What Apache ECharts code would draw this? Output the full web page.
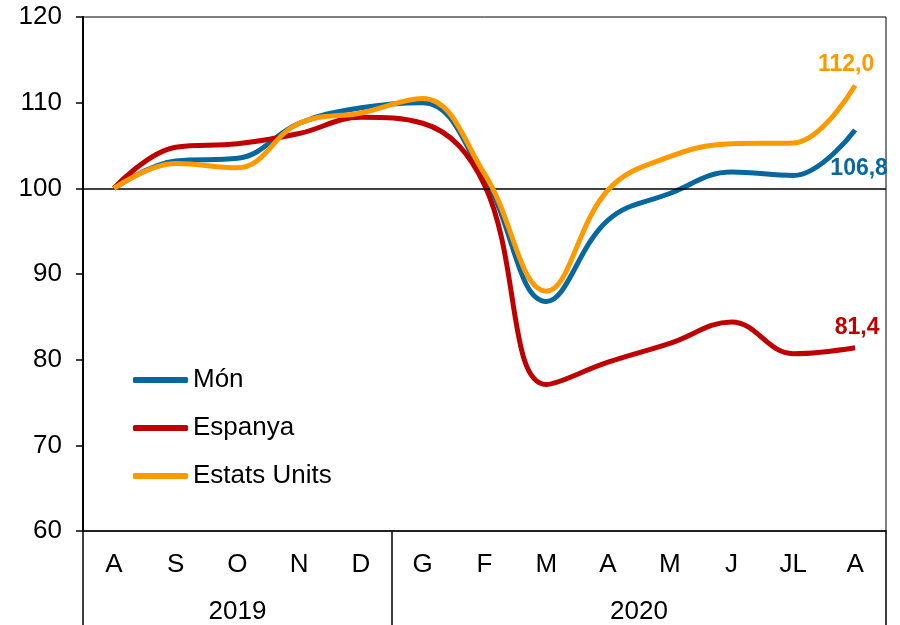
<!DOCTYPE html>
<html>
<head>
<meta charset="utf-8">
<script src="https://cdn.jsdelivr.net/npm/echarts@6/dist/echarts.min.js"></script>
<style>
  html, body { margin: 0; padding: 0; background: #fff; }
  #main { width: 900px; height: 625px; }
</style>
</head>
<body>
<div id="main"></div>
<script>
// mesos (agost 2019 - agost 2020)
var months = ['A', 'S', 'O', 'N', 'D', 'G', 'F', 'M', 'A', 'M', 'J', 'JL', 'A'];
var yearLabels = { 2: '2019', 8.5: '2020' };

// índex, agost 2019 = 100
var mon      = [100, 103.2, 103.5, 107.6, 109.4, 110.0, 101.2, 86.8, 96.3, 99.4, 101.9, 101.5, 106.8];
var espanya  = [100, 104.8, 105.2, 106.4, 108.3, 107.6, 100.4, 77.1, 79.7, 81.9, 84.4, 80.7, 81.4];
var estats   = [100, 102.9, 102.4, 107.6, 108.8, 110.5, 101.7, 88.0, 99.8, 103.7, 105.2, 105.3, 112.0];

var FONT = 'Liberation Sans, Arial, sans-serif';

function fmt(v) {
    return v.toFixed(1).replace('.', ',');
}

// posa l'etiqueta només al darrer punt
function withEndLabel(arr, color, pos, dist, offset) {
    return arr.map(function (v, i) {
        if (i !== arr.length - 1) return v;
        return {
            value: v,
            label: {
                show: true,
                position: pos,
                distance: dist,
                offset: offset,
                formatter: function (p) { return fmt(p.value); },
                color: color,
                fontFamily: FONT,
                fontWeight: 'bold',
                fontSize: 23
            }
        };
    });
}

var myChart = echarts.init(document.getElementById('main'));

var option = {
    animation: false,
    grid: {
        left: 83,
        right: 14,
        top: 17,
        bottom: 94,
        show: true,
        borderColor: '#000',
        borderWidth: 1
    },
    legend: {
        orient: 'vertical',
        left: 133,
        top: 364,
        padding: 0,
        itemWidth: 55,
        itemHeight: 6,
        itemGap: 16,
        icon: 'roundRect',
        textStyle: { fontFamily: FONT, fontSize: 26, color: '#000', lineHeight: 32 },
        data: ['Món', 'Espanya', 'Estats Units']
    },
    xAxis: [
        {
            type: 'category',
            data: months,
            boundaryGap: true,
            axisLine: { lineStyle: { color: '#000', width: 1.5 } },
            axisTick: {
                show: true,
                length: 94,
                interval: function (index) { return index === 0 || index === 5; },
                lineStyle: { color: '#000', width: 1.5 }
            },
            axisLabel: {
                interval: 0,
                margin: 21,
                fontFamily: FONT,
                fontSize: 26,
                color: '#000'
            },
            splitLine: { show: false }
        },
        {
            type: 'value',
            position: 'bottom',
            min: -0.5,
            max: 12.5,
            interval: 0.5,
            axisLine: { show: false, onZero: false },
            axisTick: { show: false },
            splitLine: { show: false },
            axisLabel: {
                margin: 68,
                fontFamily: FONT,
                fontSize: 26,
                color: '#000',
                showMinLabel: true,
                showMaxLabel: true,
                formatter: function (v) { return yearLabels[v] || ''; }
            }
        }
    ],
    yAxis: {
        type: 'value',
        min: 60,
        max: 120,
        interval: 10,
        axisLine: { show: true, onZero: false, lineStyle: { color: '#000', width: 2 } },
        axisTick: { show: true, length: 7, lineStyle: { color: '#000', width: 1.5 } },
        axisLabel: { margin: 21, fontFamily: FONT, fontSize: 26, color: '#000' },
        splitLine: { show: false }
    },
    series: [
        {
            name: 'Món',
            type: 'line',
            smooth: 0.4,
            symbol: 'circle',
            symbolSize: 0,
            color: '#07689F',
            lineStyle: { width: 5, color: '#07689F' },
            data: withEndLabel(mon, '#07689F', 'bottom', 27, [4, 0]),
            markLine: {
                silent: true,
                symbol: 'none',
                label: { show: false },
                lineStyle: { color: '#000', width: 1.5, type: 'solid' },
                data: [{ yAxis: 100 }]
            },
            z: 3
        },
        {
            name: 'Espanya',
            type: 'line',
            smooth: 0.4,
            symbol: 'circle',
            symbolSize: 0,
            color: '#C00000',
            lineStyle: { width: 5, color: '#C00000' },
            data: withEndLabel(espanya, '#C00000', 'top', 9, [2, 0]),
            z: 4
        },
        {
            name: 'Estats Units',
            type: 'line',
            smooth: 0.4,
            symbol: 'circle',
            symbolSize: 0,
            color: '#FF9900',
            lineStyle: { width: 5, color: '#FF9900' },
            data: withEndLabel(estats, '#FF9900', 'top', 9, [-9, 0]),
            z: 5
        }
    ]
};

myChart.setOption(option);
</script>
</body>
</html>
